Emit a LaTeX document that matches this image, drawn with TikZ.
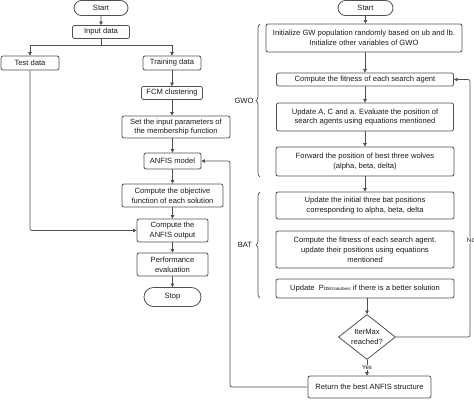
\documentclass[tikz,border=0pt]{standalone}
\usepackage{fontspec}
\setmainfont{Liberation Sans}
\usetikzlibrary{arrows.meta,shapes.geometric,shapes.misc,decorations.pathreplacing}
\definecolor{linecol}{HTML}{505050}
\definecolor{txtcol}{HTML}{1a1a1a}
\newcommand{\fs}{\fontsize{7.6}{9.8}\selectfont}
\begin{document}
\begin{tikzpicture}[x=1pt,y=-1pt,
  every node/.style={text=txtcol,font=\fs},
  box/.style={draw=linecol,line width=0.8pt,rounded corners=2pt,align=center,inner sep=1pt},
  term/.style={draw=linecol,line width=0.8pt,rounded rectangle,align=center,inner sep=1pt},
  dec/.style={draw=linecol,line width=0.8pt,diamond,aspect=1.27,align=center,inner sep=0pt,minimum width=57pt,minimum height=45pt},
  arr/.style={draw=linecol,line width=0.7pt,-{Triangle[length=3.5pt,width=3.5pt]}},
  ln/.style={draw=linecol,line width=0.7pt},
  br/.style={draw=linecol,line width=0.7pt,decorate,decoration={brace,amplitude=4pt}}]
\useasboundingbox (0,0) rectangle (474,400);
% left column
\node[term,minimum width=56pt,minimum height=15pt] (start1) at (101,8) {Start};
\node[box,minimum width=57pt,minimum height=13pt] (input) at (101,32) {Input data};
\node[box,minimum width=58pt,minimum height=14pt] (test) at (30,63) {Test data};
\node[box,minimum width=58pt,minimum height=14pt] (train) at (172,63) {Training data};
\node[box,minimum width=61pt,minimum height=13pt] (fcm) at (172,93) {FCM clustering};
\node[box,minimum width=108pt,minimum height=22pt] (set) at (176,127) {Set the input parameters of\\the membership function};
\node[box,minimum width=57pt,minimum height=16pt] (anfis) at (172.5,161) {ANFIS model};
\node[box,minimum width=101pt,minimum height=23pt] (obj) at (172.5,195.5) {Compute the objective\\function of each solution};
\node[box,minimum width=71pt,minimum height=23pt] (out) at (172.5,230.5) {Compute the\\ANFIS output};
\node[box,minimum width=71pt,minimum height=23pt] (perf) at (172.5,264.5) {Performance\\evaluation};
\node[term,minimum width=59pt,minimum height=19pt] (stop) at (172.5,297) {Stop};
% right column
\node[term,minimum width=57pt,minimum height=15pt] (start2) at (365.5,8) {Start};
\node[box,minimum width=196pt,minimum height=28pt] (init) at (364,38) {Initialize GW population randomly based on ub and lb.\\Initialize other variables of GWO};
\node[box,minimum width=177pt,minimum height=13pt] (fit) at (365,79.5) {Compute the fitness of each search agent};
\node[box,minimum width=177pt,minimum height=28pt] (upda) at (365,117) {Update A, C and a. Evaluate the position of\\search agents using equations mentioned};
\node[box,minimum width=178pt,minimum height=29pt] (fwd) at (365,161.5) {Forward the position of best three wolves\\(alpha, beta, delta)};
\node[box,minimum width=178pt,minimum height=27pt] (bat1) at (365,205.5) {Update the initial three bat positions\\corresponding to alpha, beta, delta};
\node[box,minimum width=178pt,minimum height=37pt] (bat2) at (365,249.5) {Compute the fitness of each search agent.\\update their positions using equations\\mentioned};
\node[box,minimum width=178pt,minimum height=19pt] (pos) at (365,288.5) {Update\ \ P{\fontsize{6}{6}\selectfont os}{\fontsize{4.3}{5}\selectfont Globalbest} if there is a better solution};
\node[dec] (iter) at (367,337) {IterMax\\reached?};
\node[box,minimum width=123pt,minimum height=22pt] (ret) at (369.5,387) {Return the best ANFIS structure};
% braces and labels
\draw[br] (260,177) -- (260,24);
\node (gwo) at (244,101) {GWO};
\draw[br] (260,298) -- (260,192);
\node (bat) at (245,245) {BAT};
% left connectors
\draw[arr] (start1) -- (input);
\coordinate (split) at (101,45);
\draw[ln] (input) -- (split);
\draw[arr] (split) -| (test);
\draw[arr] (split) -| (train);
\draw[arr] (train) -- (fcm);
\draw[arr] (fcm) -- (fcm|-set.north);
\draw[arr] (set.south-|anfis) -- (anfis);
\draw[arr] (anfis) -- (obj);
\draw[arr] (obj) -- (out);
\draw[arr] (out) -- (perf);
\draw[arr] (perf) -- (stop);
\draw[arr,rounded corners=2pt] (test) |- (out);
% right connectors
\draw[arr] (start2) -- (start2|-init.north);
\draw[arr] (init.south-|fit) -- (fit);
\draw[arr] (fit) -- (upda);
\draw[arr] (upda) -- (fwd);
\draw[arr] (fwd) -- (bat1);
\draw[arr] (pos.south-|iter) -- (iter);
\draw[arr] (iter) -- node[fill=white,inner sep=0.5pt,font=\fontsize{6}{6}\selectfont] {Yes} (iter|-ret.north);
\coordinate (nocorner) at (470,337);
\draw[arr,rounded corners=2pt] (iter.east) -- (nocorner) |- (fit.east);
\node[fill=white,inner sep=0.5pt,font=\fontsize{6.5}{7}\selectfont] (no) at (471,240) {No};
\coordinate (fbcorner) at (230,387);
\draw[arr,rounded corners=2pt] (ret.west) -- (fbcorner) |- (anfis.east);
\end{tikzpicture}
\end{document}
